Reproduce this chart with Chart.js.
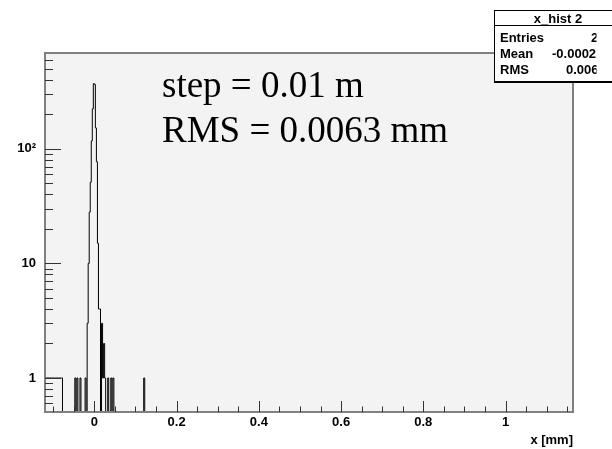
<!DOCTYPE html>
<html>
<head>
<meta charset="utf-8">
<script src="https://cdn.jsdelivr.net/npm/chart.js@4.4.1/dist/chart.umd.min.js"></script>
<style>
  html, body { margin: 0; padding: 0; background: #fff; }
  canvas { display: block; }
</style>
</head>
<body>
<canvas id="hist" width="612" height="449"></canvas>
<script>
'use strict';

// x_hist 2 : only the non-empty bins, lower edge in mm and content
const binWidth = 0.0025;
const binLow = [
    -0.12, -0.1175, -0.115, -0.1125, -0.11, -0.1075, -0.105, -0.1025, -0.1,
    -0.0975, -0.095, -0.0925, -0.09, -0.0875, -0.085, -0.0825, -0.08,
    -0.0475, -0.0425, -0.035, -0.0225,
    -0.0175, -0.015, -0.0125, -0.01, -0.0075, -0.005, -0.0025,
    0, 0.0025, 0.005, 0.0075, 0.01, 0.0125,
    0.0175, 0.02, 0.0225, 0.025, 0.0325, 0.04, 0.045, 0.12
];
const binCount = [
    1, 1, 1, 1, 1, 1, 1, 1, 1,
    1, 1, 1, 1, 1, 1, 1, 1,
    1, 1, 1, 1,
    3, 10, 28, 51, 117, 223, 370,
    365, 152, 77, 15, 4, 4,
    3, 1, 2, 1, 1, 1, 1, 1
];

const xRange = [-0.12, 1.164];
const yRange = [0.505, 685];
const xTicks = [0, 0.2, 0.4, 0.6, 0.8, 1];
const yTicks = [1, 10, 100];
const yTickLabels = ['1', '10', '10\u00B2'];

const statTitle = 'x_hist 2';
const statNames = ['Entries', 'Mean', 'RMS'];
const statValues = ['2286', '-0.0002146', '0.006318'];
const noteLines = ['step = 0.01 m', 'RMS = 0.0063 mm'];

const FLOOR = 0.1; // below the axis minimum, gets clipped

function histOutline(lows, counts, width, xmin, xmax) {
    let pts = [];
    let cursor = xmin;
    for (let i = 0; i < lows.length; i++) {
        if (lows[i] > cursor + 1e-9) {
            pts.push({ x: cursor, y: FLOOR });
        }
        pts.push({ x: lows[i], y: counts[i] });
        cursor = lows[i] + width;
    }
    pts.push({ x: cursor, y: FLOOR });
    pts.push({ x: xmax, y: FLOOR });
    return pts;
}

const boldFont = { family: '"Liberation Sans", Arial, sans-serif', size: 13, weight: 'bold' };

const frame = {
    id: 'rootFrame',
    beforeDatasetsDraw(chart) {
        const { ctx, chartArea: a } = chart;
        ctx.save();
        ctx.fillStyle = '#f3f3f3';
        ctx.fillRect(a.left, a.top, a.right - a.left, a.bottom - a.top);
        ctx.restore();
    },
    afterDatasetsDraw(chart) {
        const { ctx, chartArea: a } = chart;
        const xs = chart.scales.x, ys = chart.scales.y;
        ctx.save();
        ctx.strokeStyle = '#808080';
        ctx.lineWidth = 2;
        ctx.strokeRect(a.left, a.top, a.right - a.left, a.bottom - a.top);

        ctx.strokeStyle = '#333';
        ctx.lineWidth = 1;
        ctx.beginPath();
        // x ticks, every 0.05, long ones on the labels
        for (let k = -2; k <= 23; k++) {
            let v = k * 0.05;
            let px = Math.round(xs.getPixelForValue(v)) + 0.5;
            if (px <= a.left + 1 || px >= a.right - 1) continue;
            let len = (k % 4 === 0) ? 11 : 5.5;
            ctx.moveTo(px, a.bottom);
            ctx.lineTo(px, a.bottom - len);
        }
        // y ticks, log decades
        for (let d = 0.1; d < 1000; d *= 10) {
            for (let m = 1; m <= 9; m++) {
                let v = d * m;
                if (v < yRange[0] || v > yRange[1]) continue;
                let py = Math.round(ys.getPixelForValue(v)) + 0.5;
                let len = (m === 1) ? 16 : 8;
                ctx.moveTo(a.left, py);
                ctx.lineTo(a.left + len, py);
            }
        }
        ctx.stroke();
        ctx.restore();
    },
    afterDraw(chart) {
        const ctx = chart.ctx;
        ctx.save();

        // annotation
        ctx.fillStyle = '#000';
        ctx.font = '37px "Liberation Serif", "Times New Roman", serif';
        ctx.textAlign = 'left';
        ctx.textBaseline = 'alphabetic';
        ctx.fillText(noteLines[0], 162, 97);
        ctx.fillText(noteLines[1], 162, 142);

        // stats box
        ctx.fillStyle = '#fff';
        ctx.fillRect(494, 10, 140, 72);
        ctx.strokeStyle = '#000';
        ctx.lineWidth = 1;
        ctx.strokeRect(494.5, 10.5, 140, 71);
        ctx.beginPath();
        ctx.moveTo(494, 25.5);
        ctx.lineTo(612, 25.5);
        ctx.stroke();
        ctx.fillStyle = '#000';
        ctx.fillRect(494, 81, 140, 2);

        ctx.font = 'bold 13px "Liberation Sans", Arial, sans-serif';
        ctx.textAlign = 'center';
        ctx.fillText(statTitle, 558, 23);

        ctx.textAlign = 'left';
        const rowY = [41.5, 57.5, 74];
        const valX = [591, 552, 566];
        for (let i = 0; i < statNames.length; i++) {
            ctx.fillText(statNames[i], 500, rowY[i]);
        }
        ctx.beginPath();
        ctx.rect(494, 26, 102.5, 55);
        ctx.clip();
        for (let i = 0; i < statValues.length; i++) {
            ctx.fillText(statValues[i], valX[i], rowY[i]);
        }
        ctx.restore();
    }
};

new Chart(document.getElementById('hist'), {
    type: 'line',
    data: {
        datasets: [{
            data: histOutline(binLow, binCount, binWidth, xRange[0], xRange[1]),
            borderColor: '#000',
            borderWidth: 1,
            pointRadius: 0,
            stepped: true,
            fill: false,
            tension: 0
        }]
    },
    options: {
        responsive: false,
        devicePixelRatio: 1,
        animation: false,
        events: [],
        layout: { padding: { left: 0, top: 53, right: 39, bottom: 0 } },
        plugins: { legend: { display: false }, tooltip: { enabled: false } },
        scales: {
            x: {
                type: 'linear',
                min: xRange[0],
                max: xRange[1],
                grid: { display: false, drawTicks: false },
                border: { display: false },
                ticks: {
                    autoSkip: false,
                    maxRotation: 0,
                    padding: 3,
                    color: '#000',
                    font: boldFont,
                    callback: v => String(Math.round(v * 10) / 10)
                },
                title: {
                    display: true,
                    text: 'x [mm]',
                    align: 'end',
                    color: '#000',
                    font: boldFont,
                    padding: { top: 0, bottom: 1 }
                },
                afterBuildTicks: s => { s.ticks = xTicks.map(v => ({ value: v })); },
                afterFit: s => { s.height = 37; }
            },
            y: {
                type: 'logarithmic',
                min: yRange[0],
                max: yRange[1],
                grid: { display: false, drawTicks: false },
                border: { display: false },
                ticks: {
                    autoSkip: false,
                    padding: 9,
                    color: '#000',
                    font: boldFont,
                    callback: v => yTickLabels[yTicks.indexOf(v)]
                },
                afterBuildTicks: s => { s.ticks = yTicks.map(v => ({ value: v })); },
                afterFit: s => { s.width = 45; }
            }
        }
    },
    plugins: [frame]
});
</script>
</body>
</html>
